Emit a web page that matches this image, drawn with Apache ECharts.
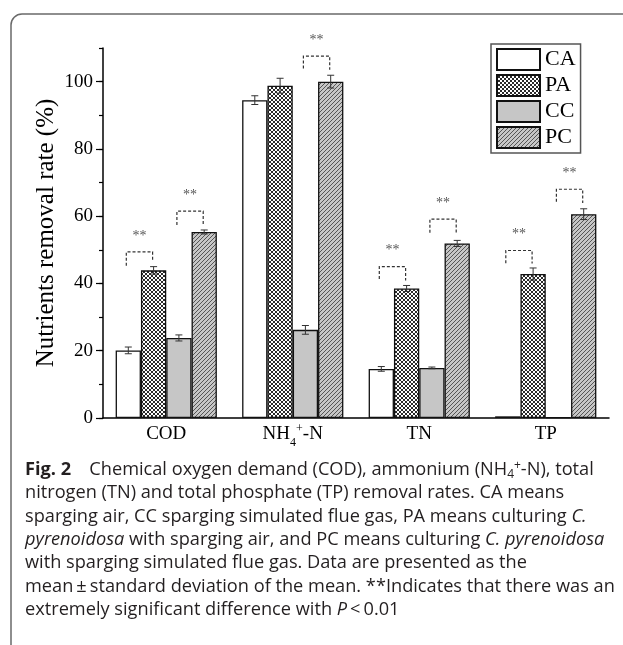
<!DOCTYPE html>
<html>
<head>
<meta charset="utf-8">
<script src="https://cdn.jsdelivr.net/npm/echarts@6/dist/echarts.min.js"></script>
<style>
  html, body { margin: 0; padding: 0; background: #fff; }
  #chart { width: 623px; height: 645px; }
</style>
</head>
<body>
<div id="chart"></div>
<script>
// groups on the x axis and treatments in the legend
const categories = ['COD', 'NH4+-N', 'TN', 'TP'];
const seriesNames = ['CA', 'PA', 'CC', 'PC'];

// removal rate (%)
const caMean = [20.1, 94.5, 14.6, 0.5];
const paMean = [43.9, 98.8, 38.5, 42.8];
const ccMean = [23.8, 26.2, 14.9, 0.2];
const pcMean = [55.3, 100.0, 51.9, 60.6];

// error bar half lengths
const caErr = [1.0, 1.3, 0.7, 0];
const paErr = [1.1, 2.2, 0.9, 1.8];
const ccErr = [0.9, 1.3, 0.25, 0];
const pcErr = [0.6, 1.9, 0.9, 1.6];

// significance brackets: [group, fromBar, toBar, top, leftFoot, rightFoot]
const brackets = [
  [0, 0, 1, 49.4, 45.3, 46.5],
  [0, 2, 3, 61.5, 57.4, 57.1],
  [1, 2, 3, 107.6, 103.9, 103.5],
  [2, 0, 1, 45.0, 41.3, 40.9],
  [2, 2, 3, 59.1, 55.1, 55.0],
  [3, 0, 1, 49.8, 46.0, 45.9],
  [3, 2, 3, 68.0, 64.3, 63.9]
];

const yLabelTicks = [0, 20, 40, 60, 80, 100];

const captionLines = [
  '{b|Fig. 2}\u2003Chemical oxygen demand (COD), ammonium (NH{s|4}{p|+}-N), total',
  'nitrogen (TN) and total phosphate (TP) removal rates. CA means',
  'sparging air, CC sparging simulated flue gas, PA means culturing {i|C.}',
  '{i|pyrenoidosa} with sparging air, and PC means culturing {i|C. pyrenoidosa}',
  'with sparging simulated flue gas. Data are presented as the',
  'mean\u2009\u00b1\u2009standard deviation of the mean. **Indicates that there was an',
  'extremely significant difference with {i|P}\u2009<\u20090.01'
];

const means = [caMean, paMean, ccMean, pcMean];
const errs = [caErr, paErr, ccErr, pcErr];

const SERIF = "'Liberation Serif', 'DejaVu Serif', serif";
const SANS = "'Open Sans', 'Noto Sans', sans-serif";
const CAP = 18.2;
const GAP = 0.2;

function makePattern(kind) {
  const c = document.createElement('canvas');
  c.width = 4; c.height = 4;
  const ctx = c.getContext('2d');
  if (kind === 'cross') {
    ctx.fillStyle = '#fff';
    ctx.fillRect(0, 0, 4, 4);
    ctx.strokeStyle = '#2a2a2a';
    ctx.lineWidth = 1;
    ctx.beginPath();
    ctx.moveTo(0, 0); ctx.lineTo(4, 4);
    ctx.moveTo(4, 0); ctx.lineTo(0, 4);
    ctx.stroke();
  } else {
    ctx.fillStyle = '#c6c6c6';
    ctx.fillRect(0, 0, 4, 4);
    ctx.strokeStyle = '#555';
    ctx.lineWidth = 1;
    ctx.beginPath();
    ctx.moveTo(-1, 5); ctx.lineTo(5, -1);
    ctx.moveTo(-1, 1); ctx.lineTo(1, -1);
    ctx.moveTo(3, 5); ctx.lineTo(5, 3);
    ctx.stroke();
  }
  return { image: c, repeat: 'repeat' };
}

const fills = ['#ffffff', makePattern('cross'), '#c6c6c6', makePattern('hatch')];

// centre x of bar k inside a group
function barX(api, cat, k) {
  const band = api.size([1, 0])[0];
  const bw = band * (1 - GAP) / seriesNames.length;
  return api.coord([cat, 0])[0] - band * (1 - GAP) / 2 + bw * (k + 0.5);
}

const barSeries = seriesNames.map((name, i) => ({
  name: name,
  type: 'bar',
  data: means[i],
  barGap: '0%',
  barCategoryGap: (GAP * 100) + '%',
  itemStyle: { color: fills[i], borderColor: '#111', borderWidth: 1.3 },
  emphasis: { disabled: true }
}));

const errData = [];
seriesNames.forEach((n, i) => {
  categories.forEach((c, j) => errData.push([j, i, means[i][j], errs[i][j]]));
});

const errSeries = {
  type: 'custom',
  data: errData,
  encode: { x: 0, y: 2 },
  z: 5,
  silent: true,
  renderItem: function (params, api) {
    const cat = api.value(0), k = api.value(1), v = api.value(2), e = api.value(3);
    if (!e) return;
    const x = barX(api, cat, k);
    const yH = api.coord([cat, v + e])[1];
    const yL = api.coord([cat, v - e])[1];
    const st = { stroke: '#333', lineWidth: 1, fill: null };
    const w = 3.5;
    return {
      type: 'group',
      children: [
        { type: 'line', shape: { x1: x, y1: yH, x2: x, y2: yL }, style: st },
        { type: 'line', shape: { x1: x - w, y1: yH, x2: x + w, y2: yH }, style: st },
        { type: 'line', shape: { x1: x - w, y1: yL, x2: x + w, y2: yL }, style: st }
      ]
    };
  }
};

const bracketSeries = {
  type: 'custom',
  data: brackets,
  encode: { x: 0, y: 3 },
  z: 6,
  clip: false,
  silent: true,
  renderItem: function (params, api) {
    const cat = api.value(0);
    const xL = barX(api, cat, api.value(1)) - 2;
    const xR = barX(api, cat, api.value(2)) - 1;
    const yT = api.coord([cat, api.value(3)])[1];
    const yA = api.coord([cat, api.value(4)])[1];
    const yB = api.coord([cat, api.value(5)])[1];
    return {
      type: 'group',
      children: [
        {
          type: 'polyline',
          shape: { points: [[xL, yA], [xL, yT], [xR, yT], [xR, yB]] },
          style: { stroke: '#333', lineWidth: 1.2, lineDash: [3, 2], fill: null }
        },
        {
          type: 'text',
          x: (xL + xR) / 2,
          y: yT - 16,
          style: {
            text: '**', fill: '#555', fontSize: 14, fontFamily: SERIF,
            align: 'center', verticalAlign: 'middle'
          }
        }
      ]
    };
  }
};

const captionRich = {
  b: { fontWeight: 'bold', fontSize: CAP, fontFamily: SANS, fill: '#231f20' },
  i: { fontStyle: 'italic', fontSize: CAP, fontFamily: SANS, fill: '#231f20' },
  s: { fontSize: 12, fontFamily: SANS, fill: '#231f20', lineHeight: 12, padding: [10, 0, 0, 0] },
  p: { fontSize: 12, fontFamily: SANS, fill: '#231f20', lineHeight: 12, padding: [0, 0, 8, 0] }
};

const graphics = [{
  type: 'rect',
  shape: { x: 11, y: 14, width: 720, height: 720, r: 11 },
  style: { fill: null, stroke: '#6a6a6a', lineWidth: 1.5 },
  silent: true
}];
captionLines.forEach((t, i) => {
  graphics.push({
    type: 'text',
    x: 25,
    y: 470 + i * 23.3,
    silent: true,
    style: {
      text: t, rich: captionRich, fontSize: CAP, fontFamily: SANS,
      fill: '#231f20', verticalAlign: 'middle', align: 'left'
    }
  });
});

const chart = echarts.init(document.getElementById('chart'), null, { renderer: 'canvas' });

chart.setOption({
  animation: false,
  backgroundColor: '#fff',
  textStyle: { fontFamily: SERIF },
  grid: { left: 103, right: 14, top: 48, bottom: 227, containLabel: false, outerBoundsMode: 'none' },
  legend: {
    data: seriesNames,
    orient: 'vertical',
    left: 491,
    top: 44,
    icon: 'rect',
    itemWidth: 43,
    itemHeight: 21,
    itemGap: 3,
    padding: [4, 5, 4, 5],
    borderColor: '#555',
    borderWidth: 1.5,
    selectedMode: false,
    textStyle: { fontFamily: SERIF, fontSize: 22, color: '#000', lineHeight: 21 }
  },
  xAxis: {
    type: 'category',
    data: categories,
    axisLine: { lineStyle: { color: '#000', width: 1.5 } },
    axisTick: { show: false },
    axisLabel: {
      interval: 0,
      hideOverlap: false,
      color: '#000', fontFamily: SERIF, fontSize: 19, margin: 1, lineHeight: 30,
      formatter: v => v === 'NH4+-N' ? '{m|NH}{sub|4}{sup|+}{m|-N}' : v,
      rich: {
        m: { fontFamily: SERIF, fontSize: 19, color: '#000', lineHeight: 30 },
        sub: { fontFamily: SERIF, fontSize: 12, color: '#000', lineHeight: 12, padding: [18, 0, 0, 0] },
        sup: { fontFamily: SERIF, fontSize: 12, color: '#000', lineHeight: 12, padding: [0, 0, 10, 0] }
      }
    }
  },
  yAxis: [{
    type: 'value',
    min: 0, max: 110, interval: 10,
    name: 'Nutrients removal rate (%)',
    nameLocation: 'middle',
    nameGap: 44,
    nameTextStyle: { fontFamily: SERIF, fontSize: 25, color: '#000' },
    axisLine: { show: true, lineStyle: { color: '#000', width: 1.5 } },
    axisTick: { show: true, inside: false, length: 4, lineStyle: { color: '#000', width: 1.2 } },
    axisLabel: { show: false },
    splitLine: { show: false }
  }, {
    type: 'value',
    position: 'left',
    min: 0, max: 110, interval: 10,
    axisLine: { show: false },
    axisTick: { show: true, length: 7, customValues: yLabelTicks, lineStyle: { color: '#000', width: 1.2 } },
    axisLabel: { color: '#000', fontFamily: SERIF, fontSize: 19, margin: 10, customValues: yLabelTicks },
    splitLine: { show: false }
  }],
  series: barSeries.concat([errSeries, bracketSeries]),
  graphic: graphics
});
</script>
</body>
</html>
